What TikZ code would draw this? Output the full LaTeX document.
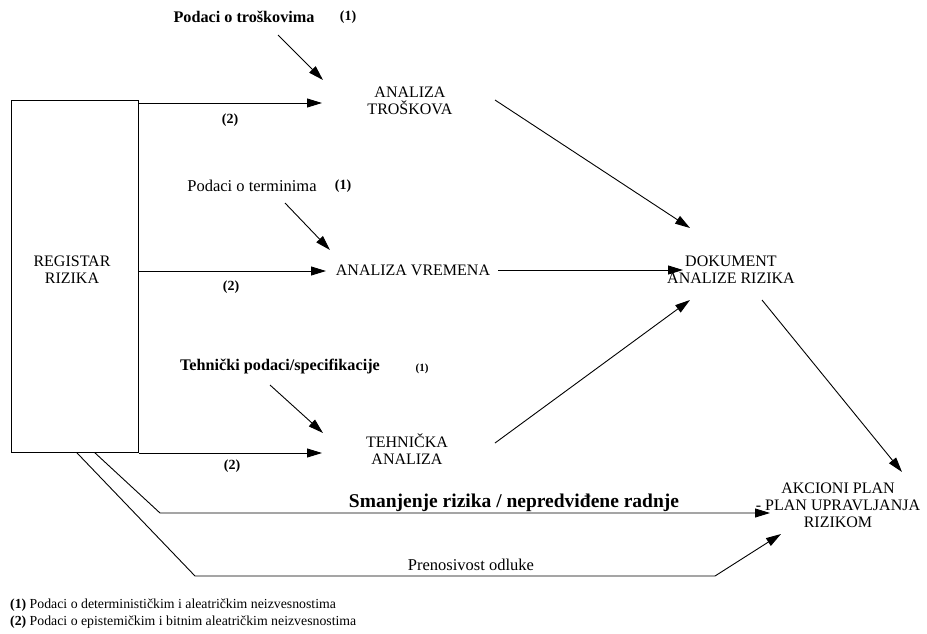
\documentclass[tikz,border=0pt]{standalone}
\usepackage{fontspec}
\setmainfont{Liberation Serif}
\usetikzlibrary{arrows.meta}

\begin{document}
\begin{tikzpicture}[x=1pt,y=-1pt,
  conn/.style={line width=0.9pt,-{Triangle[length=15pt,width=9pt]}},
  block/.style={font=\fontsize{16}{17}\selectfont, align=center, inner sep=0pt},
  note/.style={font=\bfseries\fontsize{16.2}{18}\selectfont, inner sep=0pt},
  noteR/.style={font=\fontsize{16.5}{18}\selectfont, inner sep=0pt},
  tag/.style={font=\bfseries\fontsize{14}{16}\selectfont, inner sep=0pt},
  legend/.style={font=\fontsize{13.8}{17}\selectfont, inner sep=0pt, anchor=west},
]
\useasboundingbox (0,0) rectangle (927,633);

% risk register
\node[draw, line width=0.9pt, minimum width=127pt, minimum height=352pt,
      inner sep=0pt, anchor=north west] (reg) at (11,100) {};
\node[block] (regtxt) at (72,270) {REGISTAR\\RIZIKA};

% analysis blocks
\node[block] (trosk) at (410,101) {ANALIZA\\TROŠKOVA};
\node[block] (vrem) at (413,270) {ANALIZA VREMENA};
\node[block] (tehn) at (407,449) {TEHNIČKA\\ANALIZA};
\node[block] (dok) at (731,270) {DOKUMENT\\ANALIZE RIZIKA};
\node[block] (akc) at (838,505) {AKCIONI PLAN\\- PLAN UPRAVLJANJA\\RIZIKOM};

% input data labels
\node[note] (pT) at (244,17) {Podaci o troškovima};
\node[tag] (pT1) at (348,17) {(1)};
\node[noteR] (pV) at (252,186) {Podaci o terminima};
\node[tag] (pV1) at (343,186) {(1)};
\node[note] (pR) at (280,367) {Tehnički podaci/specifikacije};
\node[tag, font=\bfseries\fontsize{11}{13}\selectfont] (pR1) at (422,369) {(1)};

% register outputs
\node[tag] (l2a) at (230,120) {(2)};
\node[tag] (l2b) at (231,287) {(2)};
\node[tag] (l2c) at (232,466) {(2)};

% connector end points
\coordinate (trW) at (322,103);
\coordinate (trN) at (323,80);
\coordinate (trE) at (495,100);
\coordinate (vrW) at (326,271);
\coordinate (vrN) at (330,250);
\coordinate (vrE) at (498,270);
\coordinate (teW) at (322,453);
\coordinate (teN) at (323,433);
\coordinate (teE) at (495,443);
\coordinate (doNW) at (690,228);
\coordinate (doW) at (683,270);
\coordinate (doSW) at (690,300);
\coordinate (doS) at (762,300);
\coordinate (akN) at (902,472);
\coordinate (akW) at (770,513);
\coordinate (akSW) at (781,534);
\coordinate (pTs) at (278,35);
\coordinate (pVs) at (285,203);
\coordinate (pRs) at (270,385);

% register to the three analyses
\draw[conn] (reg.north east |- trW) -- (trW);
\draw[conn] (reg.east |- vrW) -- (vrW);
\draw[conn] (reg.south east |- teW) -- (teW);

% data inputs
\draw[conn] (pTs) -- (trN);
\draw[conn] (pVs) -- (vrN);
\draw[conn] (pRs) -- (teN);

% analyses to the risk analysis document
\draw[conn] (trE) -- (doNW);
\draw[conn] (vrE) -- (doW);
\draw[conn] (teE) -- (doSW);

% document to the action plan
\draw[conn] (doS) -- (akN);

% direct paths from the register to the action plan
\draw[conn] ([xshift=84pt]reg.south west) -- (160,513) -- (akW);
\draw[conn] ([xshift=66pt]reg.south west) -- (195,576) -- (715,576) -- (akSW);
\node[font=\bfseries\fontsize{19.5}{21}\selectfont, inner sep=0pt] (smanj) at (514,503)
  {Smanjenje rizika / nepredviđene radnje};
\node[noteR] (pren) at (471,565) {Prenosivost odluke};

% legend
\node[legend] (leg1) at (10,605) {\textbf{(1)} Podaci o determinističkim i aleatričkim neizvesnostima};
\node[legend] (leg2) at (10,622) {\textbf{(2)} Podaci o epistemičkim i bitnim aleatričkim neizvesnostima};
\end{tikzpicture}
\end{document}
